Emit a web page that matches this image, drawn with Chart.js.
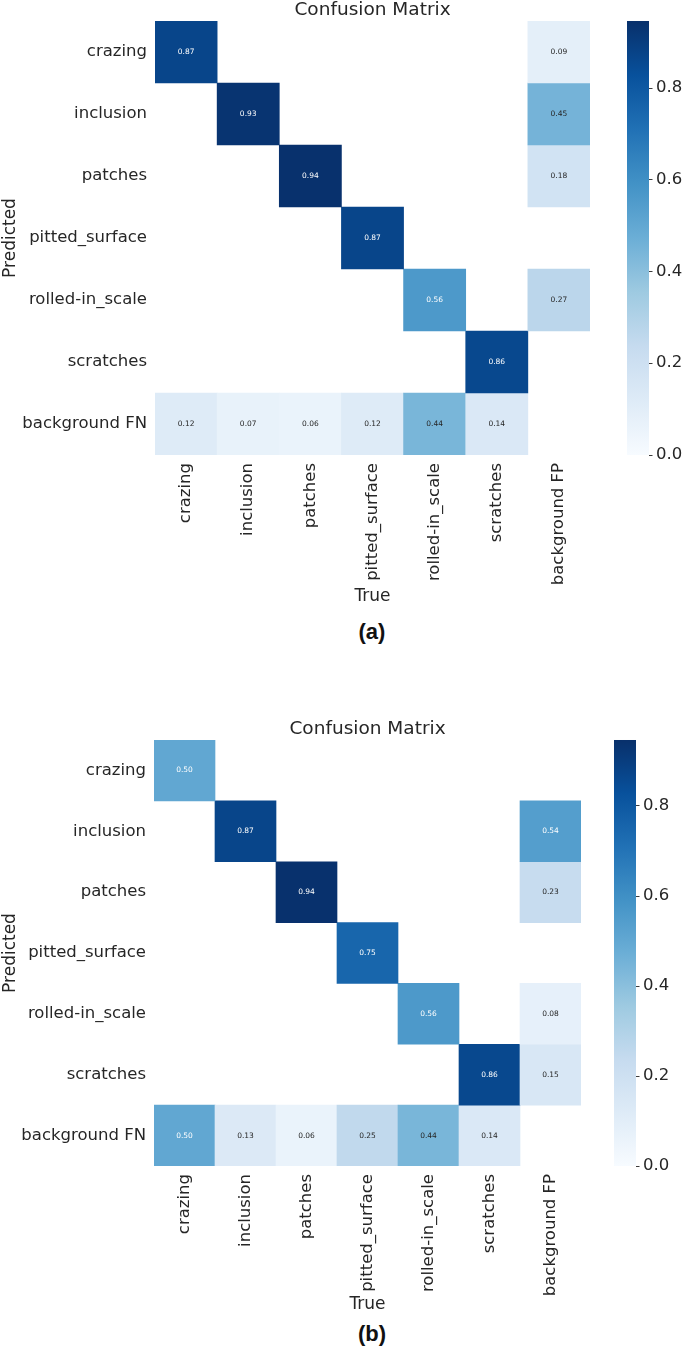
<!DOCTYPE html>
<html>
<head>
<meta charset="utf-8">
<script src="https://cdn.jsdelivr.net/npm/chart.js@4.4.1/dist/chart.umd.min.js"></script>
<style>
  html, body { margin: 0; padding: 0; background: #ffffff; }
  body { width: 685px; height: 1351px; position: relative; overflow: hidden; }
  .panel { position: absolute; left: 0; width: 685px; }
  .cap { position: absolute; left: 272px; width: 200px; text-align: center;
         font-family: "Liberation Sans", Arial, sans-serif; font-weight: bold;
         font-size: 22px; line-height: 24px; color: #111; }
</style>
</head>
<body>
<div class="panel" id="wrapA" style="top:0px;height:607px;"><canvas id="chartA"></canvas></div>
<div class="cap" style="top:620px;">(a)</div>
<div class="panel" id="wrapB" style="top:719px;height:596px;"><canvas id="chartB"></canvas></div>
<div class="cap" style="top:1322px;">(b)</div>

<script>
// ---------------- DATA ----------------
const trueLabels = ['crazing', 'inclusion', 'patches', 'pitted_surface', 'rolled-in_scale', 'scratches', 'background FP'];
const predLabels = ['crazing', 'inclusion', 'patches', 'pitted_surface', 'rolled-in_scale', 'scratches', 'background FN'];

// rows = Predicted, columns = True (null = empty cell)
const matrixA = [
  [0.87, null, null, null, null, null, 0.09],
  [null, 0.93, null, null, null, null, 0.45],
  [null, null, 0.94, null, null, null, 0.18],
  [null, null, null, 0.87, null, null, null],
  [null, null, null, null, 0.56, null, 0.27],
  [null, null, null, null, null, 0.86, null],
  [0.12, 0.07, 0.06, 0.12, 0.44, 0.14, null]
];
const matrixB = [
  [0.50, null, null, null, null, null, null],
  [null, 0.87, null, null, null, null, 0.54],
  [null, null, 0.94, null, null, null, 0.23],
  [null, null, null, 0.75, null, null, null],
  [null, null, null, null, 0.56, null, 0.08],
  [null, null, null, null, null, 0.86, 0.15],
  [0.50, 0.13, 0.06, 0.25, 0.44, 0.14, null]
];
const colorbarTicks = [0.0, 0.2, 0.4, 0.6, 0.8];
const colorMax = 0.945;

// ---------------- STYLE ----------------
const bluesStops = ['#f7fbff', '#deebf7', '#c6dbef', '#9ecae1', '#6baed6', '#4292c6', '#2171b5', '#08519c', '#08306b'];
const FONT = '"DejaVu Sans", "Liberation Sans", sans-serif';
const TEXT = '#262626';

function hexToRgb(h) {
  return [parseInt(h.slice(1, 3), 16), parseInt(h.slice(3, 5), 16), parseInt(h.slice(5, 7), 16)];
}
function cmapRgb(t) {
  t = Math.max(0, Math.min(1, t));
  const p = t * (bluesStops.length - 1);
  const i = Math.min(Math.floor(p), bluesStops.length - 2);
  const f = p - i;
  const a = hexToRgb(bluesStops[i]), b = hexToRgb(bluesStops[i + 1]);
  return a.map((v, k) => Math.round(v + (b[k] - v) * f));
}
function cmap(t) { const c = cmapRgb(t); return `rgb(${c[0]},${c[1]},${c[2]})`; }
function luminance(rgb) {
  const l = rgb.map(v => { v /= 255; return v <= 0.03928 ? v / 12.92 : Math.pow((v + 0.055) / 1.055, 2.4); });
  return 0.2126 * l[0] + 0.7152 * l[1] + 0.0722 * l[2];
}

// annotation plugin: writes each cell's value at its centre
const annotatePlugin = {
  id: 'annotate',
  afterDatasetsDraw(chart) {
    const ctx = chart.ctx;
    ctx.save();
    ctx.font = '7.5px ' + FONT;
    ctx.textAlign = 'center';
    ctx.textBaseline = 'middle';
    chart.data.datasets.forEach((ds, di) => {
      const meta = chart.getDatasetMeta(di);
      ds.values.forEach((v, i) => {
        if (v == null) return;
        const el = meta.data[i];
        const cy = (el.y + el.base) / 2;
        const lum = luminance(cmapRgb(v / colorMax));
        ctx.fillStyle = lum > 0.408 ? TEXT : '#ffffff';
        ctx.fillText(v.toFixed(2), el.x, cy);
      });
    });
    ctx.restore();
  }
};

// colorbar plugin: draws gradient bar along the 'cb' scale
const colorbarPlugin = {
  id: 'colorbar',
  afterDraw(chart, args, opts) {
    const s = chart.scales.cb;
    const ctx = chart.ctx;
    const x0 = chart.chartArea.right + opts.gap;
    const w = opts.width;
    const yBot = s.getPixelForValue(0);
    const yTop = s.getPixelForValue(colorMax);
    const g = ctx.createLinearGradient(0, yBot, 0, yTop);
    bluesStops.forEach((c, k) => g.addColorStop(k / (bluesStops.length - 1), c));
    ctx.save();
    ctx.fillStyle = g;
    ctx.fillRect(x0, yTop, w, yBot - yTop);
    ctx.strokeStyle = TEXT;
    ctx.lineWidth = 0.9;
    s.ticks.forEach(t => {
      const y = Math.round(s.getPixelForValue(t.value)) + 0.5;
      ctx.beginPath();
      ctx.moveTo(x0 + w, y);
      ctx.lineTo(x0 + w + 3.5, y);
      ctx.stroke();
    });
    ctx.restore();
  }
};

function makeChart(canvasId, matrix, g) {
  const datasets = matrix.map((row, r) => ({
    label: predLabels[r],
    values: row,
    data: row.map(v => (v == null ? null : [r - 0.5, r + 0.5])),
    backgroundColor: row.map(v => (v == null ? 'rgba(0,0,0,0)' : cmap(v / colorMax))),
    borderWidth: 0,
    grouped: false,
    barPercentage: 1.0,
    categoryPercentage: 1.0
  }));
  return new Chart(document.getElementById(canvasId), {
    type: 'bar',
    data: { labels: trueLabels, datasets },
    plugins: [annotatePlugin, colorbarPlugin],
    options: {
      responsive: true,
      maintainAspectRatio: false,
      animation: false,
      layout: { padding: 0 },
      plugins: {
        legend: { display: false },
        tooltip: { enabled: false },
        title: {
          display: true, text: 'Confusion Matrix', fullSize: false,
          color: TEXT, font: { family: FONT, size: 18.5, weight: 'normal', lineHeight: 1.135 },
          padding: { top: 0, bottom: 0 }
        },
        colorbar: { gap: g.cbGap, width: g.cbWidth }
      },
      scales: {
        x: {
          type: 'category',
          grid: { display: false, drawTicks: true, tickLength: 8 },
          border: { display: false },
          ticks: { autoSkip: false, maxRotation: 90, minRotation: 90, padding: 0,
                   color: TEXT, font: { family: FONT, size: 16.5 } },
          title: { display: true, text: 'True', color: TEXT, padding: 0,
                   font: { family: FONT, size: 17 } },
          afterFit: s => { s.height = g.xAxisH; }
        },
        y: {
          type: 'linear', position: 'left', reverse: true, min: -0.5, max: 6.5,
          grid: { display: false, drawTicks: true, tickLength: 8 },
          border: { display: false },
          afterBuildTicks: s => { s.ticks = predLabels.map((_, i) => ({ value: i })); },
          ticks: { autoSkip: false, padding: 0, color: TEXT, font: { family: FONT, size: 16.5 },
                   callback: v => predLabels[v] },
          title: { display: true, text: 'Predicted', color: TEXT, padding: 0,
                   font: { family: FONT, size: 17 } },
          afterFit: s => { s.width = g.yAxisW; }
        },
        cb: {
          type: 'linear', position: 'right', min: 0, max: colorMax,
          grid: { display: false, drawTicks: true, tickLength: g.cbGap + g.cbWidth + 7 },
          border: { display: false },
          afterBuildTicks: s => { s.ticks = colorbarTicks.map(v => ({ value: v })); },
          ticks: { padding: 0, color: TEXT, font: { family: FONT, size: 16.5 },
                   callback: v => Number(v).toFixed(1) },
          afterFit: s => { s.width = g.cbAxisW; }
        }
      }
    }
  });
}

makeChart('chartA', matrixA, { xAxisH: 152, yAxisW: 155, cbAxisW: 95, cbGap: 37, cbWidth: 22 });
makeChart('chartB', matrixB, { xAxisH: 149, yAxisW: 154, cbAxisW: 104, cbGap: 33, cbWidth: 22 });
</script>
</body>
</html>
